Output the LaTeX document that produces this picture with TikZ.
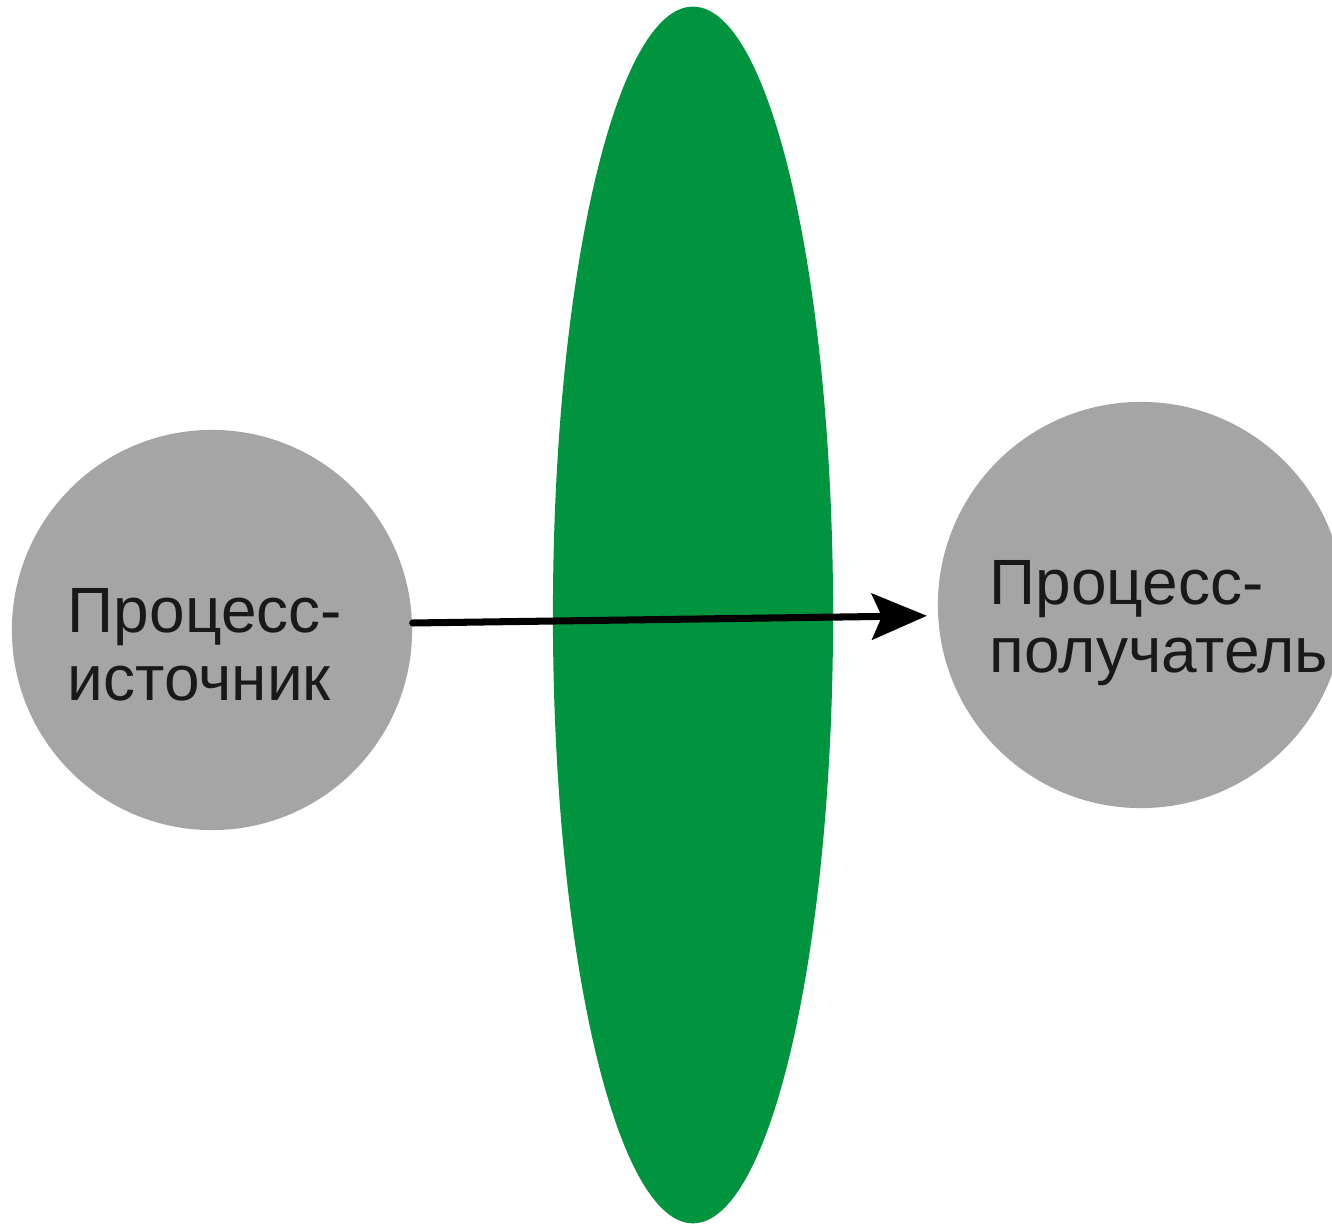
\documentclass[tikz,border=0pt]{standalone}
\usepackage{fontspec}
\setmainfont{Liberation Sans}
\usepackage{tikz}
\usetikzlibrary{arrows.meta}
\definecolor{lensgreen}{RGB}{0,148,62}
\definecolor{procgray}{RGB}{165,165,165}
\tikzset{proc/.style={circle,fill=procgray,inner sep=0pt},
  proctext/.style={inner sep=0pt,align=left,text=black!90,font=\fontsize{18.2}{19.5}\selectfont}}

\begin{document}
\begin{tikzpicture}[line cap=round,line join=round,>={Stealth[length=0.55cm,width=0.46cm,inset=0.1cm]},x=0.01cm,y=-0.01cm]
\clip (0,0) rectangle (1332,1225);
% channel
\fill[lensgreen] (693,615) ellipse [x radius=1.4cm,y radius=6.08cm];
% processes
\node[proc,minimum size=4cm] (src) at (212,630) {};
\node[proc,minimum size=4.06cm] (dst) at (1141,605) {};
\node[proctext] (srctext) at (205,645) {Процесс-\\источник};
\node[proctext] (dsttext) at (1159,623) {Процесс-\\получатель};
\draw[->,line width=2pt,shorten >=3pt] (src.2) -- (dst.183);
\end{tikzpicture}
\end{document}
